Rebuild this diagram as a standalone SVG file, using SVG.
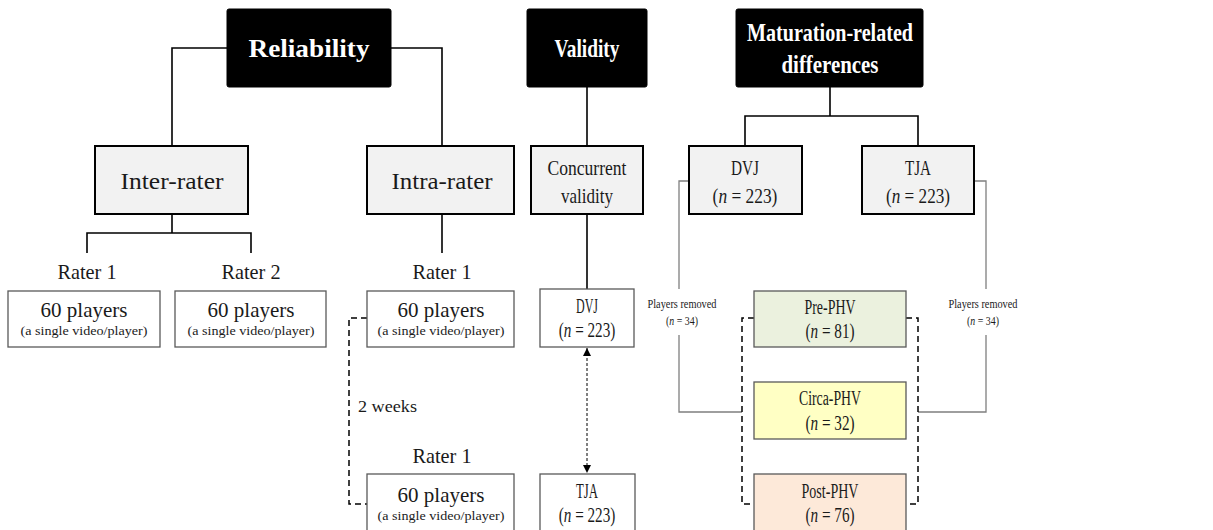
<svg xmlns="http://www.w3.org/2000/svg" width="1213" height="530" viewBox="0 0 1213 530">
<style>
text{font-family:"Liberation Serif","DejaVu Serif",serif;fill:#1a1a1a;text-anchor:middle}
.hdr{fill:#000;stroke:#000;stroke-width:1}
.ht{fill:#fff;font-weight:bold;font-size:25px}
.sub{fill:#f2f2f2;stroke:#000;stroke-width:2}
.st{font-size:23px}
.lb{fill:#fff;stroke:#595959;stroke-width:1.3}
.lt{font-size:21px}
.sm{font-size:13px}
.tiny{font-size:13px}
.blk{fill:none;stroke:#000;stroke-width:1.6}
.gry{fill:none;stroke:#7f7f7f;stroke-width:1.3}
.dash{fill:none;stroke:#000;stroke-width:1.5;stroke-dasharray:6 4}
.i{font-style:italic}
</style>
<defs>
<marker id="ah" viewBox="0 0 10 10" refX="10" refY="5" markerWidth="8" markerHeight="8" orient="auto-start-reverse" markerUnits="userSpaceOnUse">
<path d="M0,0 L10,5 L0,10 z" fill="#000"/>
</marker>
</defs>
<g id="connectors">
<path class="blk" d="M227,48 H172 V146"/>
<path class="blk" d="M391,48 H442 V146"/>
<path class="blk" d="M172,214 V233 M87,253 V233 H251 V253"/>
<path class="blk" d="M442,214 V253"/>
<path class="blk" d="M587,87 V146"/>
<path class="blk" d="M587,214 V289"/>
<path class="blk" d="M830,87 V116 M745,146 V116 H918 V146"/>
<path class="gry" d="M689,181 H679 V289 M679,335 V412 H742"/>
<path class="gry" d="M974,181 H986 V289 M986,335 V412 H918"/>
<path class="dash" d="M367,318 H349 V504 H367"/>
<path class="dash" d="M754,318 H742 V504 H754"/>
<path class="dash" d="M906,318 H918 V504 H906"/>
<line x1="587" y1="348" x2="587" y2="473" stroke="#000" stroke-width="1" stroke-dasharray="3 2" marker-start="url(#ah)" marker-end="url(#ah)"/>
<text x="358" y="412" style="font-size:17px;text-anchor:start" textLength="59" lengthAdjust="spacingAndGlyphs">2 weeks</text>
<text x="682" y="308" class="tiny" textLength="69" lengthAdjust="spacingAndGlyphs">Players removed</text>
<text class="tiny" transform="translate(682,325) scale(0.76,1)">(<tspan class="i">n</tspan> = 34)</text>
<text x="983" y="308" class="tiny" textLength="69" lengthAdjust="spacingAndGlyphs">Players removed</text>
<text class="tiny" transform="translate(983,325) scale(0.76,1)">(<tspan class="i">n</tspan> = 34)</text>
</g>
<g id="reliability">
<rect class="hdr" x="227" y="9" width="164" height="78" rx="2"/>
<text class="ht" x="309" y="57" textLength="121" lengthAdjust="spacingAndGlyphs">Reliability</text>
</g>
<g id="validity">
<rect class="hdr" x="527" y="9" width="120" height="78" rx="2"/>
<text class="ht" x="587" y="57" textLength="65" lengthAdjust="spacingAndGlyphs">Validity</text>
</g>
<g id="maturation">
<rect class="hdr" x="736" y="9" width="187" height="78" rx="2"/>
<text class="ht" x="830" y="41" textLength="166" lengthAdjust="spacingAndGlyphs">Maturation-related</text>
<text class="ht" x="830" y="73" textLength="97" lengthAdjust="spacingAndGlyphs">differences</text>
</g>
<g id="inter-rater">
<rect class="sub" x="95" y="146" width="153" height="68"/>
<text class="st" x="172" y="189" textLength="103" lengthAdjust="spacingAndGlyphs">Inter-rater</text>
</g>
<g id="intra-rater">
<rect class="sub" x="367" y="146" width="147" height="68"/>
<text class="st" x="442" y="189" textLength="101" lengthAdjust="spacingAndGlyphs">Intra-rater</text>
</g>
<g id="concurrent">
<rect class="sub" x="531" y="146" width="112" height="68"/>
<text class="st" x="587" y="175" style="font-size:22px" textLength="79" lengthAdjust="spacingAndGlyphs">Concurrent</text>
<text class="st" x="587" y="203" style="font-size:22px" textLength="52" lengthAdjust="spacingAndGlyphs">validity</text>
</g>
<g id="dvj-top">
<rect class="sub" x="689" y="146" width="113" height="68"/>
<text class="st" x="745" y="175" style="font-size:22px" textLength="28" lengthAdjust="spacingAndGlyphs">DVJ</text>
<text class="st" style="font-size:22px" transform="translate(745,203) scale(0.79,1)">(<tspan class="i">n</tspan> = 223)</text>
</g>
<g id="tja-top">
<rect class="sub" x="862" y="146" width="112" height="68"/>
<text class="st" x="918" y="175" style="font-size:22px" textLength="26" lengthAdjust="spacingAndGlyphs">TJA</text>
<text class="st" style="font-size:22px" transform="translate(918,203) scale(0.78,1)">(<tspan class="i">n</tspan> = 223)</text>
</g>
<g id="rater1-inter">
<text class="lt" x="87" y="279" textLength="59" lengthAdjust="spacingAndGlyphs">Rater 1</text>
<rect class="lb" x="8" y="291" width="152" height="56"/>
<text class="lt" x="84" y="317" textLength="87" lengthAdjust="spacingAndGlyphs">60 players</text>
<text class="sm" x="84" y="335" textLength="127" lengthAdjust="spacingAndGlyphs">(a single video/player)</text>
</g>
<g id="rater2-inter">
<text class="lt" x="251" y="279" textLength="59" lengthAdjust="spacingAndGlyphs">Rater 2</text>
<rect class="lb" x="175" y="291" width="151" height="56"/>
<text class="lt" x="251" y="317" textLength="87" lengthAdjust="spacingAndGlyphs">60 players</text>
<text class="sm" x="251" y="335" textLength="127" lengthAdjust="spacingAndGlyphs">(a single video/player)</text>
</g>
<g id="rater1-intra-a">
<text class="lt" x="442" y="279" textLength="59" lengthAdjust="spacingAndGlyphs">Rater 1</text>
<rect class="lb" x="367" y="291" width="147" height="56"/>
<text class="lt" x="441" y="317" textLength="87" lengthAdjust="spacingAndGlyphs">60 players</text>
<text class="sm" x="441" y="335" textLength="127" lengthAdjust="spacingAndGlyphs">(a single video/player)</text>
</g>
<g id="rater1-intra-b">
<text class="lt" x="442" y="463" textLength="59" lengthAdjust="spacingAndGlyphs">Rater 1</text>
<rect class="lb" x="367" y="474" width="147" height="70"/>
<text class="lt" x="441" y="502" textLength="87" lengthAdjust="spacingAndGlyphs">60 players</text>
<text class="sm" x="441" y="520" textLength="127" lengthAdjust="spacingAndGlyphs">(a single video/player)</text>
</g>
<g id="dvj-bottom">
<rect class="lb" x="540" y="289" width="94" height="58"/>
<text class="lt" x="587" y="313" style="font-size:20px" textLength="22" lengthAdjust="spacingAndGlyphs">DVJ</text>
<text class="lt" style="font-size:20px" transform="translate(587,337) scale(0.76,1)">(<tspan class="i">n</tspan> = 223)</text>
</g>
<g id="tja-bottom">
<rect class="lb" x="540" y="474" width="95" height="70"/>
<text class="lt" x="587" y="498" style="font-size:20px" textLength="22" lengthAdjust="spacingAndGlyphs">TJA</text>
<text class="lt" style="font-size:20px" transform="translate(587,522) scale(0.76,1)">(<tspan class="i">n</tspan> = 223)</text>
</g>
<g id="pre-phv">
<rect class="lb" x="754" y="291" width="152" height="56" style="fill:#ebf1de"/>
<text class="lt" x="830" y="314" style="font-size:20px" textLength="51" lengthAdjust="spacingAndGlyphs">Pre-PHV</text>
<text class="lt" style="font-size:20px" transform="translate(830,338) scale(0.76,1)">(<tspan class="i">n</tspan> = 81)</text>
</g>
<g id="circa-phv">
<rect class="lb" x="754" y="382" width="152" height="57" style="fill:#ffffc4"/>
<text class="lt" x="830" y="405" style="font-size:20px" textLength="62" lengthAdjust="spacingAndGlyphs">Circa-PHV</text>
<text class="lt" style="font-size:20px" transform="translate(830,430) scale(0.76,1)">(<tspan class="i">n</tspan> = 32)</text>
</g>
<g id="post-phv">
<rect class="lb" x="754" y="474" width="152" height="70" style="fill:#fde9d9"/>
<text class="lt" x="830" y="498" style="font-size:20px" textLength="57" lengthAdjust="spacingAndGlyphs">Post-PHV</text>
<text class="lt" style="font-size:20px" transform="translate(830,522) scale(0.76,1)">(<tspan class="i">n</tspan> = 76)</text>
</g>
</svg>
